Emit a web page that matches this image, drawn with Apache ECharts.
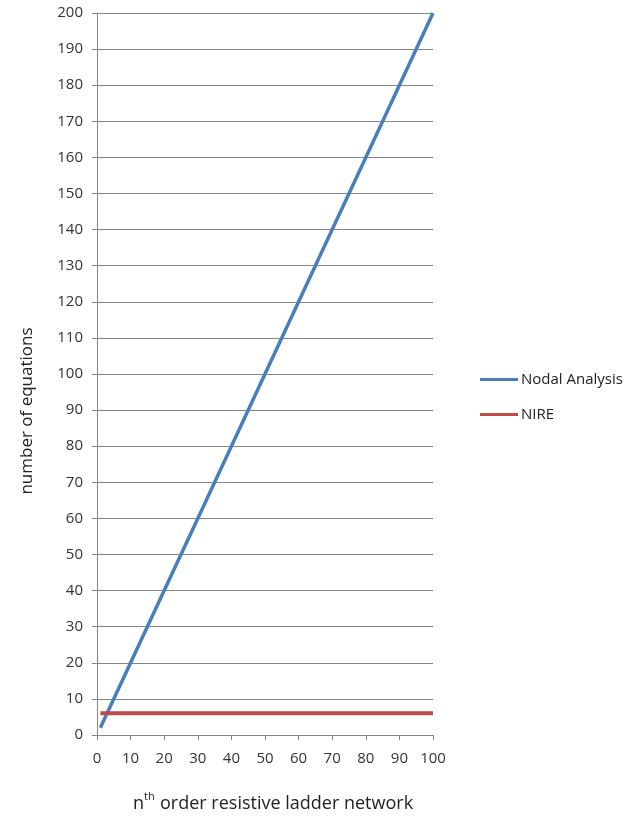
<!DOCTYPE html>
<html><head><meta charset="utf-8">
<script src="https://cdn.jsdelivr.net/npm/echarts@6/dist/echarts.min.js"></script>
<style>html,body{margin:0;padding:0;background:#fff}#c{width:636px;height:818px}</style>
</head><body><div id="c"></div>
<script>
const nodalX = [1, 10, 20, 30, 40, 50, 60, 70, 80, 90, 100];
const nodalY = [2, 20, 40, 60, 80, 100, 120, 140, 160, 180, 200];
const nireX = [1, 100];
const nireY = [6, 6];
const seriesNames = ['Nodal Analysis', 'NIRE'];

const chart = echarts.init(document.getElementById('c'));
const font = 'Open Sans';
chart.setOption({
  animation: false,
  backgroundColor: '#fff',
  grid: {left: 97, right: 203, top: 13, bottom: 83},
  xAxis: {
    type: 'value', min: 0, max: 100, interval: 10,
    axisLine: {show: true, lineStyle: {color: '#868686', width: 1}},
    axisTick: {show: true, length: 5, lineStyle: {color: '#868686'}},
    axisLabel: {margin: 16, color: '#333', fontSize: 15, fontFamily: font},
    splitLine: {show: false}
  },
  yAxis: {
    type: 'value', min: 0, max: 200, interval: 10,
    axisLine: {show: true, lineStyle: {color: '#868686', width: 1}},
    axisTick: {show: true, length: 5, lineStyle: {color: '#868686'}},
    axisLabel: {margin: 14, color: '#333', fontSize: 15, fontFamily: font},
    splitLine: {show: true, lineStyle: {color: '#868686', width: 1}}
  },
  legend: {
    orient: 'vertical', left: 475, top: 367,
    icon: 'rect',
    itemWidth: 38, itemHeight: 3, itemGap: 20,
    textStyle: {color: '#222', fontSize: 15, lineHeight: 14, fontFamily: font, padding: [0,0,0,-2]},
    data: seriesNames
  },
  series: [
    {name: seriesNames[0], type: 'line', symbol: 'none', data: nodalX.map((x,i)=>[x,nodalY[i]]),
     lineStyle: {color: '#4a7ebb', width: 3.5}, itemStyle: {color: '#4a7ebb'}},
    {name: seriesNames[1], type: 'line', symbol: 'none', data: nireX.map((x,i)=>[x,nireY[i]]),
     lineStyle: {color: '#be4b48', width: 4}, itemStyle: {color: '#be4b48'}}
  ],
  graphic: [
    {type: 'text', x: 27, y: 411, rotation: Math.PI/2, style: {text: 'number of equations', fill: '#222', font: '17px "Open Sans"', align: 'center', verticalAlign: 'middle'}},
    {type: 'text', x: 133, y: 804, style: {text: 'n', fill: '#222', font: '18px "Open Sans"', align: 'left', verticalAlign: 'middle'}},
    {type: 'text', x: 144, y: 797, style: {text: 'th', fill: '#222', font: '11px "Open Sans"', align: 'left', verticalAlign: 'middle'}},
    {type: 'text', x: 160, y: 804, style: {text: 'order resistive ladder network', fill: '#222', font: '18px "Open Sans"', align: 'left', verticalAlign: 'middle'}}
  ]
});
</script></body></html>
